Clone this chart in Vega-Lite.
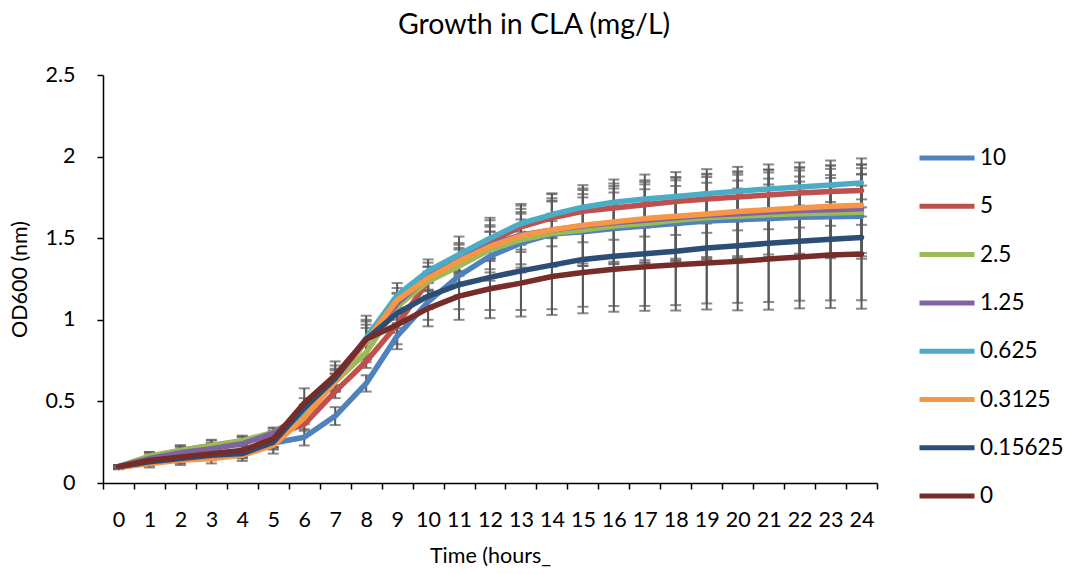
{
"$schema": "https://vega.github.io/schema/vega-lite/v6.json",
"width": 774, "height": 408,
"autosize": {"type": "none"},
"padding": {"left": 103, "top": 75, "right": 192, "bottom": 91},
"background": "white",
"config": {"font": "Lato", "view": {"stroke": null},
 "axis": {"grid": false, "domainColor": "#000", "tickColor": "#000", "labelColor": "#000", "titleColor": "#000", "labelFont": "Lato", "titleFont": "Lato", "titleFontWeight": "normal", "domainWidth": 1.5, "tickWidth": 1.5},
 "legend": {"labelFont": "Lato", "labelColor": "#000"}},
"title": {"text": "Growth in CLA (mg/L)", "fontSize": 28.5, "fontWeight": "normal", "font": "Lato", "color": "#000", "anchor": "middle", "frame": "group", "dx": 44, "offset": 25},
"data": {"values": [
{"s":"10","t":0,"v":0.095,"e":0.01},{"s":"10","t":1,"v":0.13,"e":0.025},{"s":"10","t":2,"v":0.15,"e":0.03},{"s":"10","t":3,"v":0.17,"e":0.03},{"s":"10","t":4,"v":0.19,"e":0.035},{"s":"10","t":5,"v":0.245,"e":0.04},{"s":"10","t":6,"v":0.28,"e":0.05},{"s":"10","t":7,"v":0.41,"e":0.055},{"s":"10","t":8,"v":0.61,"e":0.05},{"s":"10","t":9,"v":0.90,"e":0.08},{"s":"10","t":10,"v":1.11,"e":0.15},{"s":"10","t":11,"v":1.27,"e":0.12},{"s":"10","t":12,"v":1.39,"e":0.15},{"s":"10","t":13,"v":1.47,"e":0.18},{"s":"10","t":14,"v":1.525,"e":0.2},{"s":"10","t":15,"v":1.54,"e":0.21},{"s":"10","t":16,"v":1.56,"e":0.22},{"s":"10","t":17,"v":1.575,"e":0.225},{"s":"10","t":18,"v":1.59,"e":0.23},{"s":"10","t":19,"v":1.605,"e":0.235},{"s":"10","t":20,"v":1.613,"e":0.24},{"s":"10","t":21,"v":1.62,"e":0.245},{"s":"10","t":22,"v":1.628,"e":0.25},{"s":"10","t":23,"v":1.632,"e":0.255},{"s":"10","t":24,"v":1.634,"e":0.26},
{"s":"5","t":0,"v":0.10,"e":0.01},{"s":"5","t":1,"v":0.16,"e":0.03},{"s":"5","t":2,"v":0.20,"e":0.03},{"s":"5","t":3,"v":0.23,"e":0.03},{"s":"5","t":4,"v":0.255,"e":0.03},{"s":"5","t":5,"v":0.29,"e":0.03},{"s":"5","t":6,"v":0.36,"e":0.04},{"s":"5","t":7,"v":0.56,"e":0.04},{"s":"5","t":8,"v":0.745,"e":0.04},{"s":"5","t":9,"v":0.97,"e":0.05},{"s":"5","t":10,"v":1.235,"e":0.06},{"s":"5","t":11,"v":1.38,"e":0.08},{"s":"5","t":12,"v":1.48,"e":0.1},{"s":"5","t":13,"v":1.57,"e":0.11},{"s":"5","t":14,"v":1.625,"e":0.12},{"s":"5","t":15,"v":1.665,"e":0.13},{"s":"5","t":16,"v":1.685,"e":0.135},{"s":"5","t":17,"v":1.705,"e":0.14},{"s":"5","t":18,"v":1.725,"e":0.145},{"s":"5","t":19,"v":1.74,"e":0.15},{"s":"5","t":20,"v":1.752,"e":0.15},{"s":"5","t":21,"v":1.765,"e":0.155},{"s":"5","t":22,"v":1.777,"e":0.155},{"s":"5","t":23,"v":1.786,"e":0.16},{"s":"5","t":24,"v":1.793,"e":0.16},
{"s":"2.5","t":0,"v":0.10,"e":0.01},{"s":"2.5","t":1,"v":0.165,"e":0.025},{"s":"2.5","t":2,"v":0.20,"e":0.03},{"s":"2.5","t":3,"v":0.23,"e":0.035},{"s":"2.5","t":4,"v":0.26,"e":0.03},{"s":"2.5","t":5,"v":0.31,"e":0.03},{"s":"2.5","t":6,"v":0.42,"e":0.04},{"s":"2.5","t":7,"v":0.62,"e":0.05},{"s":"2.5","t":8,"v":0.80,"e":0.06},{"s":"2.5","t":9,"v":1.08,"e":0.08},{"s":"2.5","t":10,"v":1.235,"e":0.09},{"s":"2.5","t":11,"v":1.33,"e":0.1},{"s":"2.5","t":12,"v":1.43,"e":0.14},{"s":"2.5","t":13,"v":1.49,"e":0.17},{"s":"2.5","t":14,"v":1.53,"e":0.2},{"s":"2.5","t":15,"v":1.55,"e":0.22},{"s":"2.5","t":16,"v":1.575,"e":0.23},{"s":"2.5","t":17,"v":1.59,"e":0.24},{"s":"2.5","t":18,"v":1.61,"e":0.245},{"s":"2.5","t":19,"v":1.625,"e":0.25},{"s":"2.5","t":20,"v":1.634,"e":0.255},{"s":"2.5","t":21,"v":1.643,"e":0.26},{"s":"2.5","t":22,"v":1.65,"e":0.265},{"s":"2.5","t":23,"v":1.655,"e":0.27},{"s":"2.5","t":24,"v":1.659,"e":0.27},
{"s":"1.25","t":0,"v":0.10,"e":0.01},{"s":"1.25","t":1,"v":0.15,"e":0.03},{"s":"1.25","t":2,"v":0.185,"e":0.035},{"s":"1.25","t":3,"v":0.21,"e":0.035},{"s":"1.25","t":4,"v":0.24,"e":0.04},{"s":"1.25","t":5,"v":0.305,"e":0.03},{"s":"1.25","t":6,"v":0.43,"e":0.05},{"s":"1.25","t":7,"v":0.63,"e":0.06},{"s":"1.25","t":8,"v":0.87,"e":0.1},{"s":"1.25","t":9,"v":1.10,"e":0.065},{"s":"1.25","t":10,"v":1.265,"e":0.085},{"s":"1.25","t":11,"v":1.37,"e":0.1},{"s":"1.25","t":12,"v":1.46,"e":0.15},{"s":"1.25","t":13,"v":1.52,"e":0.18},{"s":"1.25","t":14,"v":1.55,"e":0.22},{"s":"1.25","t":15,"v":1.575,"e":0.23},{"s":"1.25","t":16,"v":1.595,"e":0.24},{"s":"1.25","t":17,"v":1.61,"e":0.245},{"s":"1.25","t":18,"v":1.625,"e":0.25},{"s":"1.25","t":19,"v":1.64,"e":0.255},{"s":"1.25","t":20,"v":1.65,"e":0.26},{"s":"1.25","t":21,"v":1.66,"e":0.26},{"s":"1.25","t":22,"v":1.67,"e":0.265},{"s":"1.25","t":23,"v":1.675,"e":0.27},{"s":"1.25","t":24,"v":1.68,"e":0.27},
{"s":"0.625","t":0,"v":0.10,"e":0.01},{"s":"0.625","t":1,"v":0.14,"e":0.02},{"s":"0.625","t":2,"v":0.16,"e":0.025},{"s":"0.625","t":3,"v":0.18,"e":0.03},{"s":"0.625","t":4,"v":0.20,"e":0.03},{"s":"0.625","t":5,"v":0.26,"e":0.04},{"s":"0.625","t":6,"v":0.42,"e":0.05},{"s":"0.625","t":7,"v":0.63,"e":0.07},{"s":"0.625","t":8,"v":0.89,"e":0.135},{"s":"0.625","t":9,"v":1.15,"e":0.075},{"s":"0.625","t":10,"v":1.30,"e":0.07},{"s":"0.625","t":11,"v":1.40,"e":0.11},{"s":"0.625","t":12,"v":1.50,"e":0.125},{"s":"0.625","t":13,"v":1.59,"e":0.12},{"s":"0.625","t":14,"v":1.645,"e":0.13},{"s":"0.625","t":15,"v":1.69,"e":0.135},{"s":"0.625","t":16,"v":1.72,"e":0.14},{"s":"0.625","t":17,"v":1.74,"e":0.15},{"s":"0.625","t":18,"v":1.755,"e":0.15},{"s":"0.625","t":19,"v":1.773,"e":0.15},{"s":"0.625","t":20,"v":1.787,"e":0.15},{"s":"0.625","t":21,"v":1.802,"e":0.15},{"s":"0.625","t":22,"v":1.814,"e":0.15},{"s":"0.625","t":23,"v":1.826,"e":0.15},{"s":"0.625","t":24,"v":1.839,"e":0.15},
{"s":"0.3125","t":0,"v":0.095,"e":0.01},{"s":"0.3125","t":1,"v":0.12,"e":0.025},{"s":"0.3125","t":2,"v":0.14,"e":0.03},{"s":"0.3125","t":3,"v":0.15,"e":0.03},{"s":"0.3125","t":4,"v":0.17,"e":0.035},{"s":"0.3125","t":5,"v":0.23,"e":0.05},{"s":"0.3125","t":6,"v":0.40,"e":0.04},{"s":"0.3125","t":7,"v":0.62,"e":0.05},{"s":"0.3125","t":8,"v":0.87,"e":0.08},{"s":"0.3125","t":9,"v":1.12,"e":0.075},{"s":"0.3125","t":10,"v":1.255,"e":0.07},{"s":"0.3125","t":11,"v":1.36,"e":0.08},{"s":"0.3125","t":12,"v":1.45,"e":0.09},{"s":"0.3125","t":13,"v":1.515,"e":0.1},{"s":"0.3125","t":14,"v":1.55,"e":0.1},{"s":"0.3125","t":15,"v":1.58,"e":0.105},{"s":"0.3125","t":16,"v":1.60,"e":0.11},{"s":"0.3125","t":17,"v":1.62,"e":0.11},{"s":"0.3125","t":18,"v":1.635,"e":0.115},{"s":"0.3125","t":19,"v":1.648,"e":0.115},{"s":"0.3125","t":20,"v":1.663,"e":0.115},{"s":"0.3125","t":21,"v":1.675,"e":0.12},{"s":"0.3125","t":22,"v":1.685,"e":0.12},{"s":"0.3125","t":23,"v":1.696,"e":0.12},{"s":"0.3125","t":24,"v":1.702,"e":0.12},
{"s":"0.15625","t":0,"v":0.10,"e":0.01},{"s":"0.15625","t":1,"v":0.13,"e":0.02},{"s":"0.15625","t":2,"v":0.15,"e":0.025},{"s":"0.15625","t":3,"v":0.17,"e":0.03},{"s":"0.15625","t":4,"v":0.18,"e":0.03},{"s":"0.15625","t":5,"v":0.25,"e":0.04},{"s":"0.15625","t":6,"v":0.46,"e":0.06},{"s":"0.15625","t":7,"v":0.64,"e":0.08},{"s":"0.15625","t":8,"v":0.88,"e":0.11},{"s":"0.15625","t":9,"v":1.04,"e":0.09},{"s":"0.15625","t":10,"v":1.145,"e":0.08},{"s":"0.15625","t":11,"v":1.215,"e":0.15},{"s":"0.15625","t":12,"v":1.26,"e":0.2},{"s":"0.15625","t":13,"v":1.30,"e":0.24},{"s":"0.15625","t":14,"v":1.335,"e":0.27},{"s":"0.15625","t":15,"v":1.37,"e":0.29},{"s":"0.15625","t":16,"v":1.39,"e":0.305},{"s":"0.15625","t":17,"v":1.405,"e":0.32},{"s":"0.15625","t":18,"v":1.42,"e":0.33},{"s":"0.15625","t":19,"v":1.44,"e":0.34},{"s":"0.15625","t":20,"v":1.454,"e":0.35},{"s":"0.15625","t":21,"v":1.469,"e":0.36},{"s":"0.15625","t":22,"v":1.482,"e":0.365},{"s":"0.15625","t":23,"v":1.494,"e":0.375},{"s":"0.15625","t":24,"v":1.505,"e":0.385},
{"s":"0","t":0,"v":0.10,"e":0.01},{"s":"0","t":1,"v":0.14,"e":0.025},{"s":"0","t":2,"v":0.16,"e":0.03},{"s":"0","t":3,"v":0.18,"e":0.035},{"s":"0","t":4,"v":0.20,"e":0.04},{"s":"0","t":5,"v":0.27,"e":0.05},{"s":"0","t":6,"v":0.49,"e":0.09},{"s":"0","t":7,"v":0.66,"e":0.085},{"s":"0","t":8,"v":0.88,"e":0.12},{"s":"0","t":9,"v":0.97,"e":0.12},{"s":"0","t":10,"v":1.07,"e":0.07},{"s":"0","t":11,"v":1.145,"e":0.145},{"s":"0","t":12,"v":1.19,"e":0.18},{"s":"0","t":13,"v":1.225,"e":0.205},{"s":"0","t":14,"v":1.265,"e":0.235},{"s":"0","t":15,"v":1.29,"e":0.25},{"s":"0","t":16,"v":1.31,"e":0.26},{"s":"0","t":17,"v":1.325,"e":0.27},{"s":"0","t":18,"v":1.337,"e":0.28},{"s":"0","t":19,"v":1.348,"e":0.285},{"s":"0","t":20,"v":1.358,"e":0.3},{"s":"0","t":21,"v":1.372,"e":0.31},{"s":"0","t":22,"v":1.385,"e":0.315},{"s":"0","t":23,"v":1.397,"e":0.325},{"s":"0","t":24,"v":1.403,"e":0.335}
]},
"encoding": {
 "x": {"field": "t", "type": "quantitative", "scale": {"domain": [-0.5, 24.5], "nice": false, "zero": false},
  "axis": {"values": [-0.5,0.5,1.5,2.5,3.5,4.5,5.5,6.5,7.5,8.5,9.5,10.5,11.5,12.5,13.5,14.5,15.5,16.5,17.5,18.5,19.5,20.5,21.5,22.5,23.5,24.5],
   "labelExpr": "datum.value < 24 ? format(datum.value + 0.5, 'd') : ''", "labelOffset": 15.48, "tickSize": 6, "labelFontSize": 21.5, "labelPadding": 20,
   "labelOverlap": false, "labelBound": false, "labelFlush": false, "title": "Time (hours_", "titleFontSize": 21.5, "titlePadding": 15}}
},
"layer": [
 {"mark": {"type": "errorbar", "ticks": {"size": 11, "thickness": 2, "color": "#595959"}, "rule": {"strokeWidth": 2, "color": "#595959"}, "color": "#595959"},
  "encoding": {"y": {"field": "v", "type": "quantitative", "scale": {"domain": [0, 2.5], "nice": false},
     "axis": {"values": [0,0.5,1,1.5,2,2.5], "format": "~g", "tickSize": 6, "labelFontSize": 21.5, "labelPadding": 22, "title": "OD600 (nm)", "titleFontSize": 21.5, "titlePadding": 13}},
   "yError": {"field": "e"}}},
 {"mark": {"type": "line", "strokeWidth": 5.5, "strokeCap": "round", "strokeJoin": "round"},
  "encoding": {"y": {"field": "v", "type": "quantitative", "scale": {"domain": [0, 2.5], "nice": false},
     "axis": {"values": [0,0.5,1,1.5,2,2.5], "format": "~g", "tickSize": 6, "labelFontSize": 21.5, "labelPadding": 22, "title": "OD600 (nm)", "titleFontSize": 21.5, "titlePadding": 13}},
   "color": {"field": "s", "type": "nominal",
     "scale": {"domain": ["10","5","2.5","1.25","0.625","0.3125","0.15625","0"], "range": ["#4F81BD","#C0504D","#9BBB59","#8064A2","#4BACC6","#F79646","#2C4D75","#772C2A"]},
     "legend": {"orient": "none", "legendX": 814, "legendY": 69, "symbolType": "stroke", "symbolSize": 3025, "symbolStrokeWidth": 5, "labelFontSize": 22.5, "labelOffset": 3, "clipHeight": 28, "rowPadding": 20.3, "title": null, "padding": 0}}}}
]
}
